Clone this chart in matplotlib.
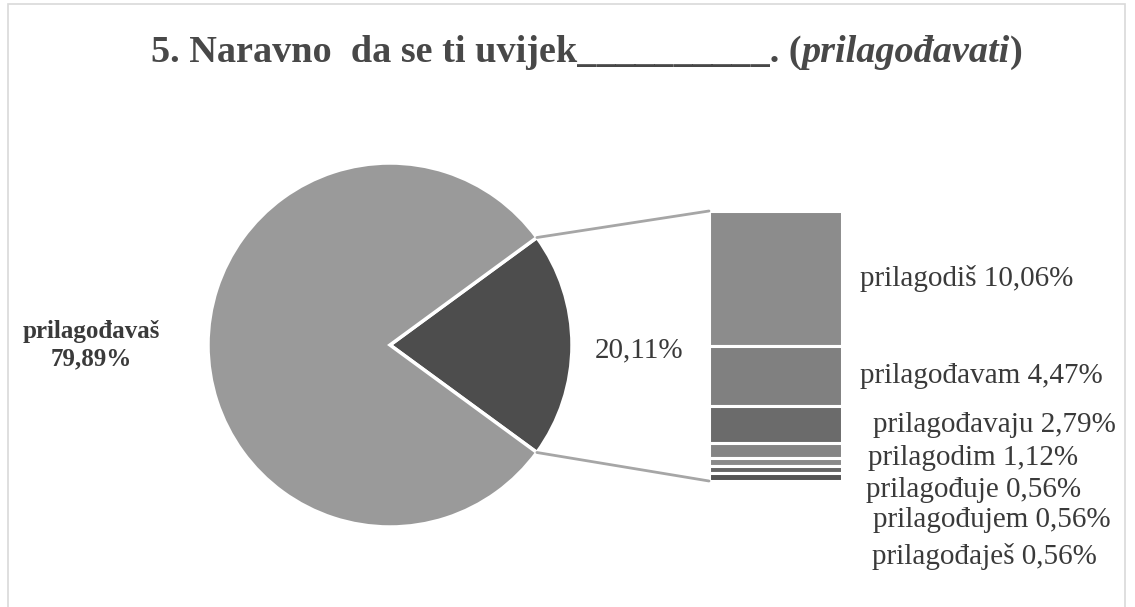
import matplotlib
matplotlib.use("Agg")
import matplotlib.pyplot as plt
from matplotlib.patches import ConnectionPatch, Rectangle
import numpy as np

# data
pieLabels = ["ostalo", "prilagođavaš"]
pieValues = [20.11, 79.89]
barLabels = ["prilagodiš", "prilagođavam", "prilagođavaju", "prilagodim",
             "prilagođuje", "prilagođujem", "prilagođaješ"]
barValues = [10.06, 4.47, 2.79, 1.12, 0.56, 0.56, 0.56]

plt.rcParams["font.family"] = ["Liberation Serif", "DejaVu Serif"]
textColor = "#3a3a3a"

fig = plt.figure(figsize=(11.35, 6.07), dpi=100)
W, H = 1135, 607

# frame around the chart area
fig.patches.append(Rectangle((8 / W, -0.01), 1117 / W, 1 - 4 / H + 0.01,
                             transform=fig.transFigure, fill=False,
                             edgecolor="#d9d9d9", lw=1.2))

# pie
cx, cy, r = 390, 345, 182
axPie = fig.add_axes([(cx - r) / W, (H - cy - r) / H, 2 * r / W, 2 * r / H])
startAngle = -pieValues[0] / 100 * 360 / 2
wedges, _ = axPie.pie(pieValues, colors=["#4d4d4d", "#9a9a9a"],
                      startangle=startAngle, counterclock=True,
                      wedgeprops=dict(edgecolor="white", linewidth=2.5))
axPie.set_xlim(-1, 1)
axPie.set_ylim(-1, 1)
axPie.text(1.37, -0.03, f"{pieValues[0]:.2f}%".replace(".", ","), ha="center",
           va="center", fontsize=21, color=textColor)
axPie.text(-1.64, 0.0, f"{pieLabels[1]}\n{pieValues[1]:.2f}%".replace(".", ","),
           ha="center", va="center", fontsize=18, fontweight="bold",
           color=textColor, linespacing=1.25, clip_on=False)

# stacked bar of the small slice
bx0, bx1, by0, by1 = 709, 842, 211, 481
axBar = fig.add_axes([bx0 / W, (H - by1) / H, (bx1 - bx0) / W, (by1 - by0) / H])
total = sum(barValues)
barColors = ["#8c8c8c", "#808080", "#6b6b6b", "#858585", "#8a8a8a",
             "#666666", "#555555"]
bottoms = [total - sum(barValues[:i + 1]) for i in range(len(barValues))]
for val, bot, col in zip(barValues, bottoms, barColors):
    axBar.bar(0.5, val, bottom=bot, width=1.0, color=col,
              edgecolor="white", linewidth=2.2)
axBar.set_xlim(0, 1)
axBar.set_ylim(0, total)
axBar.axis("off")

labelX = [1.135, 1.135, 1.233, 1.195, 1.180, 1.233, 1.226]
labelY = [b + v / 2 for b, v in zip(bottoms[:3], barValues[:3])] + [1.71, -0.67, -2.9, -5.59]
trans = matplotlib.transforms.blended_transform_factory(axBar.transAxes, axBar.transData)
for lab, val, lx, ly in zip(barLabels, barValues, labelX, labelY):
    axBar.text(lx, ly, f"{lab} {val:.2f}%".replace(".", ","), transform=trans,
               ha="left", va="center", fontsize=21, color=textColor, clip_on=False)

# connector lines
theta = np.deg2rad(pieValues[0] / 100 * 360 / 2)
for sign, yb in [(1, total), (-1, 0)]:
    con = ConnectionPatch(xyA=(np.cos(theta), sign * np.sin(theta)), coordsA=axPie.transData,
                          xyB=(0, yb), coordsB=axBar.transData,
                          color="#a6a6a6", lw=2)
    fig.add_artist(con)

# title: bold part, italic part, closing bracket
fig.canvas.draw()
renderer = fig.canvas.get_renderer()
titleParts = [("5. Naravno  da se ti uvijek__________. (", "normal"),
              ("prilagođavati", "italic"), (")", "normal")]
pieces = []
for txt, style in titleParts:
    t = fig.text(0, 1 - 52 / H, txt, fontsize=27.5, fontweight="bold", style=style,
                 color="#484848", va="center", ha="left")
    pieces.append(t)
widths = [p.get_window_extent(renderer).width for p in pieces]
x = (587 - sum(widths) / 2)
for p, w in zip(pieces, widths):
    p.set_x(x / W)
    x += w

fig.savefig("out.png", dpi=100)
